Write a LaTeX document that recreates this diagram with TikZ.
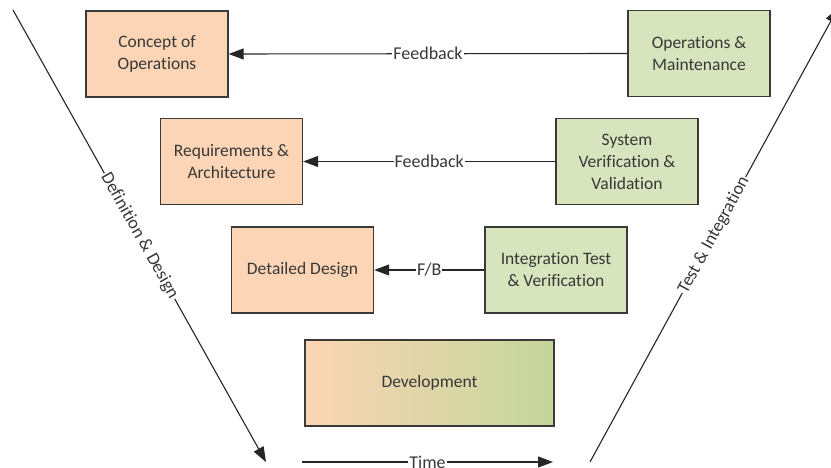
\documentclass[tikz,border=0pt]{standalone}
\usepackage{fontspec}
\setmainfont{Carlito}[Ligatures=NoCommon]
\usetikzlibrary{arrows.meta}
\definecolor{defcol}{HTML}{FBD5B5}
\definecolor{testcol}{HTML}{D7E4BD}
\definecolor{devright}{HTML}{C3D69B}
\definecolor{inkcol}{HTML}{3A3A3A}
\definecolor{textcol}{HTML}{383838}
\tikzset{
  phase/.style={draw=inkcol, line width=1.4pt, minimum width=142pt, minimum height=86pt,
    align=center, text=textcol, font=\fontsize{17.5}{22}\selectfont, inner sep=2pt},
  defbox/.style={phase, fill=defcol},
  testbox/.style={phase, fill=testcol},
  flow/.style={draw=black!85, line width=1.1pt, -{Triangle[length=15pt,width=11pt]}},
  lbl/.style={fill=white, text=textcol, font=\fontsize{18}{22}\selectfont, inner xsep=1pt, inner ysep=0pt}
}
\begin{document}
\begin{tikzpicture}[x=1pt,y=-1pt]
\useasboundingbox (0,0) rectangle (831,468);

% left leg of the V: definition phases
\node[defbox] (conops) at (157,54) {Concept of\\Operations};
\node[defbox] (req) at (231.5,161.5) {Requirements \&\\Architecture};
\node[defbox] (dd) at (302.5,270) {Detailed Design};

% bottom of the V
\node[phase, minimum width=249pt, left color=defcol, right color=devright] (dev) at (429.5,383) {Development};

% right leg of the V: test phases
\node[testbox] (itv) at (556,270) {Integration Test\\\& Verification};
\node[testbox] (svv) at (627,161.5) {System\\Verification \&\\Validation};
\node[testbox] (om) at (699,53.5) {Operations \&\\Maintenance};

% feedback paths
\draw[flow] (om.west) -- node[lbl] {Feedback} (conops.east);
\draw[flow] (svv.west) -- node[lbl] {Feedback} (req.east);
\draw[flow] (itv.west) -- node[lbl] {F/B} (dd.east);

% time axis and the two legs
\coordinate (t0) at (302,462);
\coordinate (t1) at (553,462);
\draw[flow] (t0) -- node[lbl] {Time} (t1);

\coordinate (dstart) at (13,10);
\coordinate (dend) at (266,462);
\draw[flow] (dstart) -- node[lbl, sloped] {Definition \& Design} (dend);

\coordinate (istart) at (590,462);
\coordinate (iend) at (838,8);
\draw[flow] (istart) -- node[lbl, sloped] {Test \& Integration} (iend);
\end{tikzpicture}
\end{document}
